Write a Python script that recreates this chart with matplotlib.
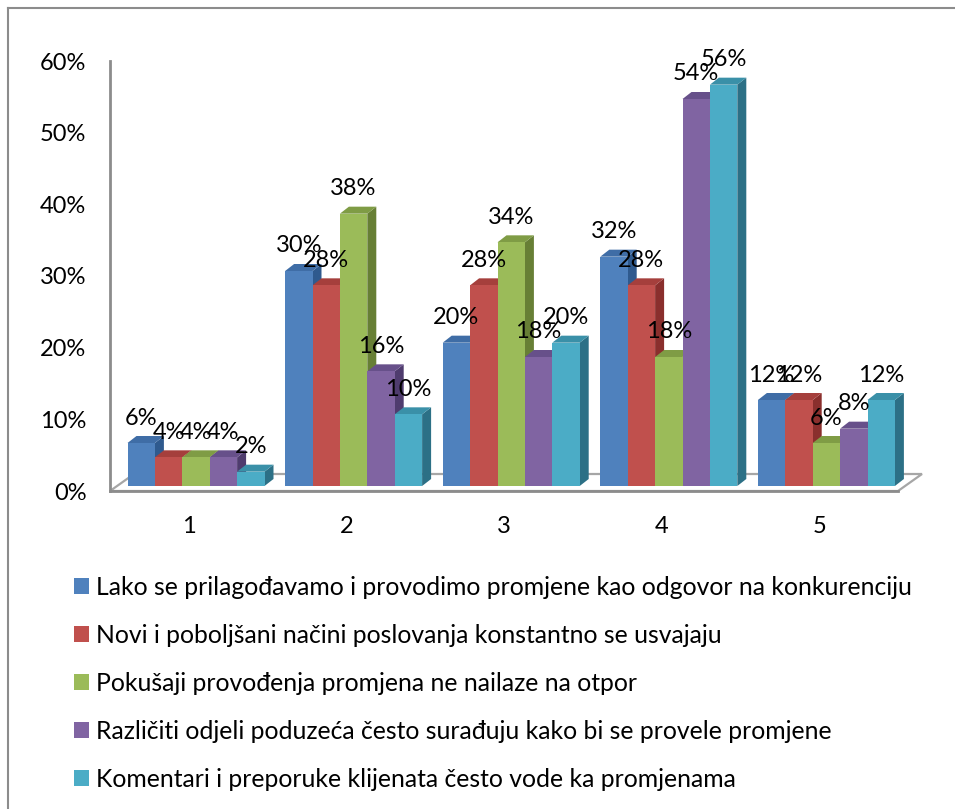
"""Clustered pseudo-3D bar chart with a five item legend."""

import matplotlib
matplotlib.use("Agg")
import matplotlib.pyplot as plt
from matplotlib.lines import Line2D
from matplotlib.patches import Patch, Polygon
from matplotlib.transforms import offset_copy

plt.rcParams['font.family'] = ['Lato', 'DejaVu Sans']

categories = [1, 2, 3, 4, 5]
series_names = [
    "Lako se prilagođavamo i provodimo promjene kao odgovor na konkurenciju",
    "Novi i poboljšani načini poslovanja konstantno se usvajaju",
    "Pokušaji provođenja promjena ne nailaze na otpor",
    "Različiti odjeli poduzeća često surađuju kako bi se provele promjene",
    "Komentari i preporuke klijenata često vode ka promjenama",
]
series_values = [
    [6, 30, 20, 32, 12],
    [4, 28, 28, 28, 12],
    [4, 38, 34, 18, 6],
    [4, 16, 18, 54, 8],
    [2, 10, 20, 56, 12],
]
y_ticks = [0, 10, 20, 30, 40, 50, 60]

front_colors = ["#4F81BD", "#C0504D", "#9BBB59", "#8064A2", "#4BACC6"]
top_colors = ["#3F6DA6", "#A53F3C", "#7F9C45", "#67508A", "#3A90A8"]
side_colors = ["#2F5A8E", "#8A2F2D", "#677F35", "#4F3C6E", "#2C7086"]

W, H = 955, 809
DPI = 100
LEFT, RIGHT, TOP, BOTTOM = 110, 898, 61, 491
BAR_W = 27.4 / 157.6
# bar depth and floor depth, converted from pixels to data units
DX = 9 / 157.6
DY = 7 / 7.167
FLOOR_DX = 24 / 157.6
FLOOR_DY = 17 / 7.167
GRAY = "#8C8C8C"
FONT = 17
LEGEND_FONT = 17.8

fig = plt.figure(figsize=(W / DPI, H / DPI), dpi=DPI)
ax = fig.add_axes([LEFT / W, 1 - BOTTOM / H, (RIGHT - LEFT) / W, (BOTTOM - TOP) / H])
ax.set_xlim(0.5, 5.5)
ax.set_ylim(0, 60)
ax.patch.set_visible(False)

# outer frame of the picture
fig.add_artist(Line2D([8 / W, 8 / W], [0, 1 - 8 / H], color=GRAY, lw=1.5))
fig.add_artist(Line2D([8 / W, 1], [1 - 8 / H, 1 - 8 / H], color=GRAY, lw=1.5))

# floor
x0, x1 = ax.get_xlim()
ax.add_patch(Polygon(
    [(x0, 0), (x1, 0), (x1 + FLOOR_DX, FLOOR_DY), (x0 + FLOOR_DX, FLOOR_DY)],
    closed=True, facecolor="white", edgecolor="#A6A6A6", linewidth=1.6,
    clip_on=False, zorder=1,
))

for side in ["top", "right"]:
    ax.spines[side].set_visible(False)
for side in ["left", "bottom"]:
    ax.spines[side].set_color(GRAY)
    ax.spines[side].set_linewidth(2)
    ax.spines[side].set_zorder(2)

ax.set_xticks(categories)
ax.set_yticks(y_ticks)
ax.set_yticklabels([f"{v}%" for v in y_ticks])
ax.tick_params(axis="both", length=0, labelsize=FONT, colors="black")
ax.tick_params(axis="y", pad=17)
ax.tick_params(axis="x", pad=18)

# bars stand a little behind the front edge of the floor
bar_trans = offset_copy(ax.transData, fig=fig, x=7.2, y=5, units="dots")

for i, values in enumerate(series_values):
    for cat, v in zip(categories, values):
        left = cat + (i - 2.5) * BAR_W
        right = left + BAR_W
        z = 3 + i + cat * 10
        ax.add_patch(Polygon(
            [(right, 0), (right + DX, DY), (right + DX, v + DY), (right, v)],
            closed=True, facecolor=side_colors[i], edgecolor="none",
            transform=bar_trans, clip_on=False, zorder=z,
        ))
        ax.add_patch(Polygon(
            [(left, v), (right, v), (right + DX, v + DY), (left + DX, v + DY)],
            closed=True, facecolor=top_colors[i], edgecolor="none",
            transform=bar_trans, clip_on=False, zorder=z,
        ))
    x_pos = [c + (i - 2) * BAR_W for c in categories]
    ax.bar(x_pos, values, width=BAR_W, color=front_colors[i],
           transform=bar_trans, clip_on=False, zorder=3 + i + 60)

# labels go on top of everything
for i, values in enumerate(series_values):
    for cat, v in zip(categories, values):
        ax.annotate(
            f"{v}%", (cat + (i - 2) * BAR_W, v), xycoords=bar_trans,
            xytext=(0, 18), textcoords="offset points",
            ha="center", va="center", fontsize=FONT, color="black",
            annotation_clip=False, zorder=100,
        )

handles = [Patch(facecolor=c, edgecolor="none") for c in front_colors]
ax.legend(
    handles, series_names,
    loc="upper left", bbox_to_anchor=(74 / W, 1 - 576 / H),
    bbox_transform=fig.transFigure, frameon=False,
    fontsize=LEGEND_FONT, handlelength=0.61, handleheight=0.61,
    handletextpad=0.28, labelspacing=1.01, borderpad=0, borderaxespad=0,
)

fig.savefig("out.png", dpi=DPI)
